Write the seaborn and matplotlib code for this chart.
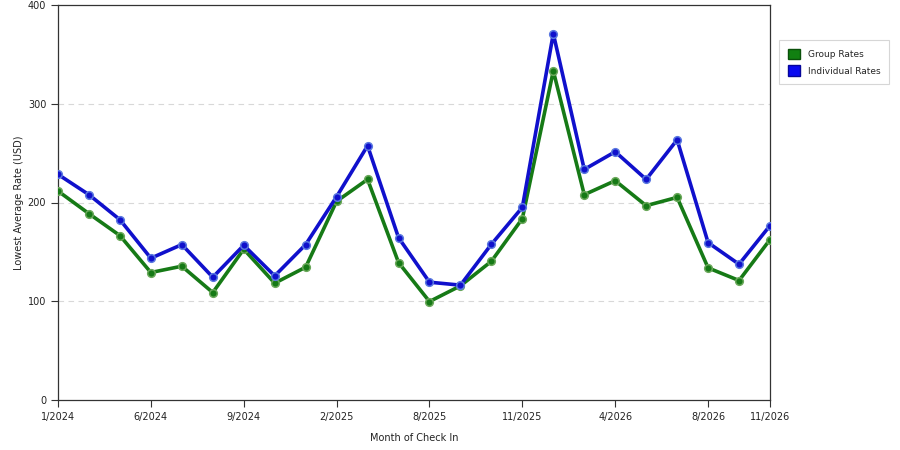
import matplotlib
matplotlib.use("Agg")
import matplotlib.pyplot as plt
from matplotlib.patches import Patch
import seaborn as sns
import pandas as pd
import numpy as np

# Data
positions = list(range(24))
group_rates = [211.6, 188.7, 166.5, 129.1, 135.5, 108.8, 152.7, 118.3, 134.5, 201.2,
               223.4, 139.2, 99.7, 115.6, 140.5, 183.7, 333.3, 207.9, 222.1, 196.8,
               205.2, 133.8, 121.0, 162.4]
individual_rates = [228.5, 207.9, 182.6, 143.6, 157.4, 124.3, 156.7, 125.7, 157.4, 205.9,
                    257.5, 164.4, 119.3, 116.3, 157.7, 195.1, 371.0, 233.5, 251.4, 223.4,
                    263.5, 159.4, 137.5, 176.6]
tick_positions = [0, 3, 6, 9, 12, 15, 18, 21, 23]
tick_labels = ["1/2024", "6/2024", "9/2024", "2/2025", "8/2025", "11/2025",
               "4/2026", "8/2026", "11/2026"]
series_names = ["Group Rates", "Individual Rates"]

df = pd.DataFrame({
    "pos": positions * 2,
    "rate": group_rates + individual_rates,
    "series": [series_names[0]] * 24 + [series_names[1]] * 24,
})

sns.set_style("white")
plt.rcParams["font.family"] = ["DejaVu Sans"]

fig = plt.figure(figsize=(9, 4.5), dpi=100)
ax = fig.add_axes([58 / 900, 50 / 450, (770 - 58) / 900, (400 - 5) / 450])

line_colors = {"Group Rates": "#167a16", "Individual Rates": "#1010cc"}
marker_edges = {"Group Rates": "#6aa85a", "Individual Rates": "#5a78e0"}

for name in series_names:
    sub = df[df["series"] == name]
    sns.lineplot(data=sub, x="pos", y="rate", ax=ax, color=line_colors[name],
                 linewidth=2.6, marker="o", markersize=5.5,
                 markerfacecolor=line_colors[name], markeredgecolor=marker_edges[name],
                 markeredgewidth=1.1, legend=False, zorder=3)

ax.set_xlim(0, 23)
ax.set_ylim(0, 400)
ax.set_yticks([0, 100, 200, 300, 400])
ax.set_xticks(tick_positions)
ax.set_xticklabels(tick_labels)
ax.tick_params(axis="both", labelsize=7, length=5, width=0.8, direction="out",
               color="#333333", colors="#222222")
ax.tick_params(axis="both", which="both", bottom=True, left=True)
for y in [100, 200, 300]:
    ax.axhline(y, color="#d8d8d8", linestyle=(0, (5, 4)), linewidth=0.8, zorder=1)

for side in ["left", "bottom", "top", "right"]:
    ax.spines[side].set_visible(True)
    ax.spines[side].set_color("#333333")
    ax.spines[side].set_linewidth(0.9)

ax.set_xlabel("Month of Check In", fontsize=7, color="#222222", labelpad=8)
ax.set_ylabel("Lowest Average Rate (USD)", fontsize=7, color="#222222", labelpad=3)

handles = [Patch(facecolor="#118011", edgecolor="#0a500a", label="Group Rates"),
           Patch(facecolor="#0a0af0", edgecolor="#06069a", label="Individual Rates")]
leg = fig.legend(handles=handles, loc="upper left", bbox_to_anchor=(779 / 900, 1 - 40 / 450),
                 fontsize=6.5, frameon=True, fancybox=False, edgecolor="#cccccc",
                 handlelength=1.35, handleheight=1.35, handletextpad=0.9,
                 borderpad=0.95, labelspacing=0.75, borderaxespad=0)
leg.get_frame().set_linewidth(0.8)

fig.savefig("out.png", dpi=100)
